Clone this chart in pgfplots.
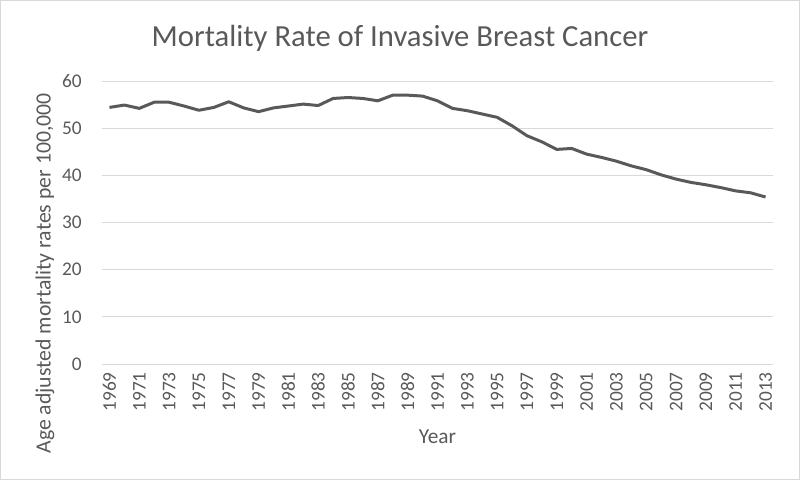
\documentclass[border=0pt]{standalone}
\usepackage{fontspec}
\setmainfont{Carlito}
\usepackage{pgfplots}
\pgfplotsset{compat=1.18}
\definecolor{txtC}{HTML}{595959}
\definecolor{gridC}{HTML}{D9D9D9}
\definecolor{lineC}{HTML}{595959}
\begin{document}
\begin{tikzpicture}
\useasboundingbox (0,0) rectangle (600pt,360pt);
\draw[draw=gridC, line width=0.75pt] (0.4pt,0.4pt) rectangle (599.6pt,359.6pt);
\node[text=txtC, font=\fontsize{23}{27}\selectfont] at (300pt,331pt) {Mortality Rate of Invasive Breast Cancer};
\begin{axis}[
  at={(76.5pt,87pt)}, anchor=south west,
  scale only axis, width=503.25pt, height=212.25pt,
  xmin=-0.5, xmax=44.5, ymin=0, ymax=60,
  ytick={0,10,...,60},
  xtick={0,2,...,44},
  xticklabels={1969,1971,1973,1975,1977,1979,1981,1983,1985,1987,1989,1991,1993,1995,1997,1999,2001,2003,2005,2007,2009,2011,2013},
  x tick label style={rotate=90, anchor=east, inner sep=0pt, xshift=-6pt, font=\fontsize{14.5}{17}\selectfont, text=txtC},
  y tick label style={anchor=east, inner sep=0pt, xshift=-15pt, font=\fontsize{14.5}{17}\selectfont, text=txtC},
  /pgf/number format/assume math mode=true,
  ymajorgrids, xmajorgrids=false,
  grid style={draw=gridC, line width=0.75pt},
  axis x line*=bottom,
  axis y line*=left,
  x axis line style={draw=gridC, line width=0.75pt},
  y axis line style={draw=none},
  major tick length=0pt,
  xlabel={Year}, ylabel={Age adjusted mortality rates per 100,000},
  xlabel style={at={(axis description cs:0.5,-0.258)}, anchor=center, font=\fontsize{16}{19}\selectfont, text=txtC},
  ylabel style={at={(axis description cs:-0.085,0.32)}, anchor=center, rotate=0, font=\fontsize{16.3}{19}\selectfont, text=txtC},
  clip=false,
]
\addplot[lineC, line width=2.25pt, line join=round, mark=none] coordinates {
(0,54.4) (1,54.9) (2,54.2) (3,55.5) (4,55.5) (5,54.7) (6,53.8) (7,54.4) (8,55.6) (9,54.3)
(10,53.5) (11,54.3) (12,54.7) (13,55.1) (14,54.8) (15,56.3) (16,56.5) (17,56.3) (18,55.8) (19,57.0)
(20,57.0) (21,56.8) (22,55.8) (23,54.2) (24,53.7) (25,53.0) (26,52.3) (27,50.5) (28,48.4) (29,47.1)
(30,45.5) (31,45.7) (32,44.5) (33,43.8) (34,43.0) (35,42.0) (36,41.2) (37,40.1) (38,39.2) (39,38.5)
(40,38.0) (41,37.4) (42,36.7) (43,36.3) (44,35.4)
};
\end{axis}
\end{tikzpicture}
\end{document}
